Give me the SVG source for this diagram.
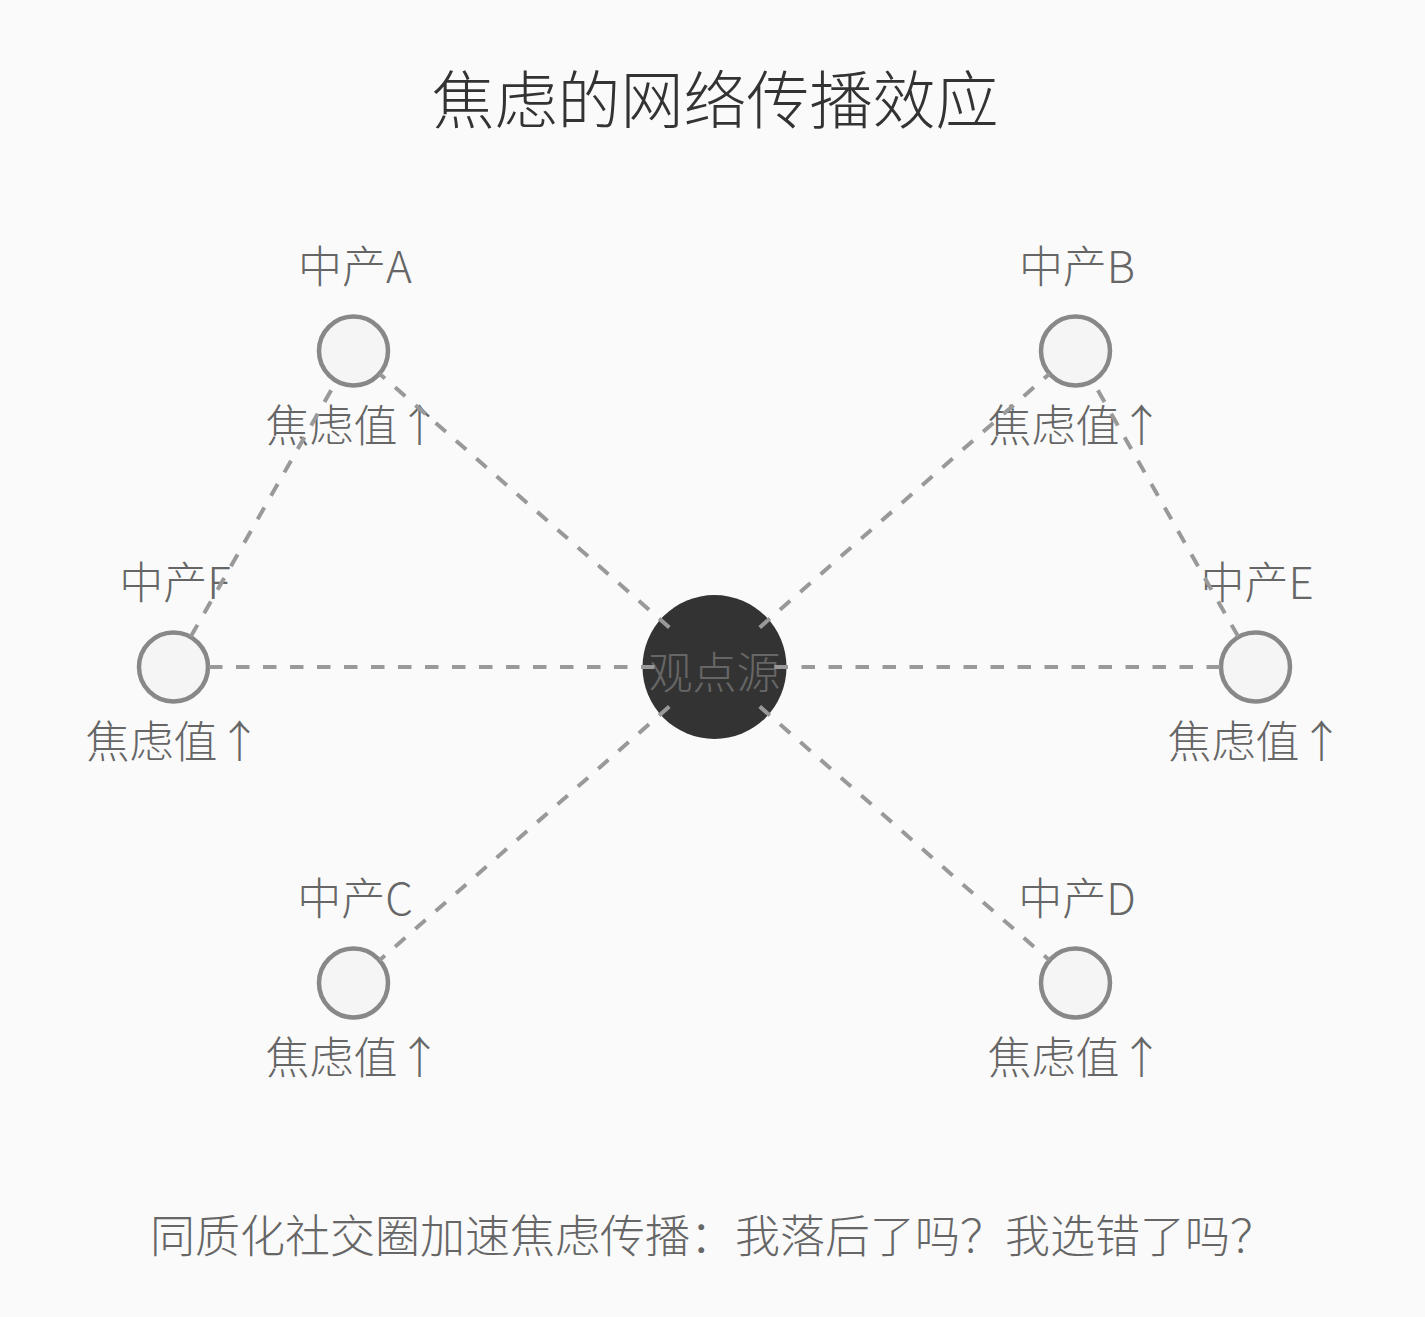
<svg xmlns="http://www.w3.org/2000/svg" width="1425" height="1317" viewBox="0 0 1425 1317">
<style>
text { font-family: "Noto Sans CJK SC", "Noto Sans", sans-serif; font-weight: 300; }
.title { font-size: 63px; fill: #333; text-anchor: middle; }
.name { font-size: 44px; fill: #666; text-anchor: middle; }
.val { font-size: 44px; fill: #666; text-anchor: middle; }
.foot { font-size: 45px; fill: #666; text-anchor: middle; }
.node { fill: #f5f5f5; stroke: #888; stroke-width: 4.5; }
.hub { fill: #333; }
.hubt { font-size: 44px; fill: #666; text-anchor: middle; }
.link { stroke: #999; stroke-width: 4; stroke-dasharray: 13.5 13.5; fill: none; }
</style>
<rect width="1425" height="1317" fill="#fafafa"/>
<text class="title" x="715" y="123">焦虑的网络传播效应</text>

<g id="hub">
<circle class="hub" cx="714.5" cy="667" r="72"/>
<text class="hubt" x="714.5" y="689">观点源</text>
</g>
<g id="nodeA">
<circle class="node" cx="353.5" cy="351" r="34.5"/>
<text class="name" x="355" y="283">中产A</text>
<text class="val" x="353.5" y="442">焦虑值↑</text>
</g>
<g id="nodeB">
<circle class="node" cx="1075.5" cy="351" r="34.5"/>
<text class="name" x="1077" y="283">中产B</text>
<text class="val" x="1075.5" y="442">焦虑值↑</text>
</g>
<g id="nodeC">
<circle class="node" cx="353.5" cy="983" r="34.5"/>
<text class="name" x="355" y="915">中产C</text>
<text class="val" x="353.5" y="1074">焦虑值↑</text>
</g>
<g id="nodeD">
<circle class="node" cx="1075.5" cy="983" r="34.5"/>
<text class="name" x="1077" y="915">中产D</text>
<text class="val" x="1075.5" y="1074">焦虑值↑</text>
</g>
<g id="nodeE">
<circle class="node" cx="1255.5" cy="667" r="34.5"/>
<text class="name" x="1257" y="599">中产E</text>
<text class="val" x="1255.5" y="758">焦虑值↑</text>
</g>
<g id="nodeF">
<circle class="node" cx="173.5" cy="667" r="34.5"/>
<text class="name" x="175" y="599">中产F</text>
<text class="val" x="173.5" y="758">焦虑值↑</text>
</g>

<g id="connectors">
<line class="link" x1="669.3" y1="627.5" x2="379.5" y2="373.7"/>
<line class="link" x1="759.7" y1="627.5" x2="1049.5" y2="373.7"/>
<line class="link" x1="669.3" y1="706.5" x2="379.5" y2="960.3"/>
<line class="link" x1="759.7" y1="706.5" x2="1049.5" y2="960.3"/>
<line class="link" x1="654.5" y1="667" x2="208.5" y2="667"/>
<line class="link" x1="774.5" y1="667" x2="1220.5" y2="667"/>
<line class="link" x1="190.8" y1="636.6" x2="336.2" y2="381.4"/>
<line class="link" x1="1238.2" y1="636.6" x2="1092.8" y2="381.4"/>
</g>

<text class="foot" x="712.5" y="1253">同质化社交圈加速焦虑传播：我落后了吗？我选错了吗？</text>
</svg>
